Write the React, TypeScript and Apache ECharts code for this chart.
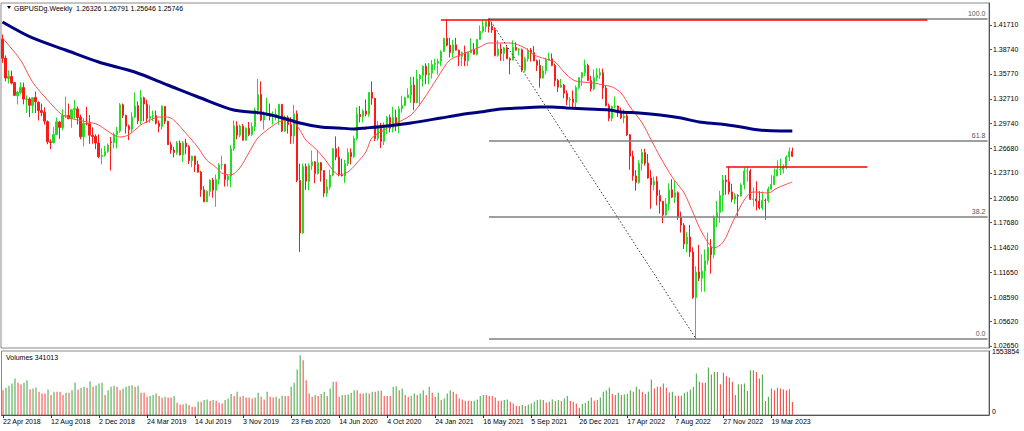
import React, { useEffect, useRef } from "react";
import * as echarts from "echarts";

const symbolTitle = "GBPUSDg.Weekly";
const tickLabels = ["22 Apr 2018", "12 Aug 2018", "2 Dec 2018", "24 Mar 2019", "14 Jul 2019", "3 Nov 2019", "23 Feb 2020", "14 Jun 2020", "4 Oct 2020", "24 Jan 2021", "16 May 2021", "5 Sep 2021", "26 Dec 2021", "17 Apr 2022", "7 Aug 2022", "27 Nov 2022", "19 Mar 2023"];
const TICK_EVERY = 16;
const SLOTS = 329;

const opens = [
  1.4000,1.3768,1.3520,1.3545,1.3470,1.3310,1.3350,1.3410,1.3265,1.3270,1.3190,1.3290,1.3230,1.3130,1.3110,1.2995,1.2750,1.2740,1.2840,1.2990,1.2920,1.3070,1.3070,1.3030,1.3140,1.3150,1.3050,1.2810,1.2970,1.2970,1.2830,1.2815,1.2735,1.2570,1.2585,1.2630,1.2750,
  1.2740,1.2840,1.2880,1.3200,1.3070,1.2940,1.2900,1.3050,1.3190,1.3005,1.3285,1.3210,1.3035,1.3060,1.3070,1.2975,1.2935,1.3180,1.3000,1.2715,1.2650,1.2620,1.2735,1.2590,1.2735,1.2690,1.2520,1.2575,1.2475,1.2380,1.2165,1.2020,1.2145,1.2285,1.2160,1.2290,1.2470,1.2475,1.2290,1.2330,1.2665,1.2945,1.2830,1.2940,1.2770,1.2915,1.2840,1.2935,1.3135,1.3325,1.3015,1.3075,
  1.3085,1.3060,1.3075,1.3080,1.3205,1.2880,1.3045,1.2960,1.2820,1.3090,1.2280,1.1640,1.2450,1.2270,1.2460,1.2505,1.2365,1.2495,1.2400,1.2125,1.2200,1.2345,1.2665,1.2565,1.2350,1.2335,1.2485,1.2620,1.2570,1.2790,1.3085,1.3055,1.3125,1.3085,1.3350,1.3280,1.2790,1.2915,1.2755,1.2940,1.3045,1.2915,1.3045,1.2945,1.3150,1.3190,1.3285,1.3320,1.3440,1.3225,1.3515,1.3555,
  1.3670,1.3565,1.3585,1.3690,1.3705,1.3730,1.3850,1.4010,1.3925,1.3835,1.3930,1.3865,1.3790,1.3835,1.3735,1.3835,1.3870,1.3815,1.3995,1.4095,1.4150,1.4215,1.4155,1.4110,1.3800,1.3880,1.3825,1.3890,1.3760,1.3745,1.3900,1.3865,1.3870,1.3620,1.3760,1.3865,1.3835,1.3735,1.3680,1.3525,1.3615,1.3745,1.3760,1.3680,1.3495,1.3415,1.3440,1.3340,1.3260,1.3270,1.3230,1.3410,
  1.3530,1.3590,1.3680,1.3495,1.3395,1.3530,1.3560,1.3590,1.3405,1.3190,1.3035,1.3180,1.3185,1.3115,1.3040,1.3065,1.2835,1.2575,1.2335,1.2255,1.2485,1.2620,1.2490,1.2310,1.2225,1.2270,1.2095,1.2025,1.1860,1.1995,1.2165,1.2075,1.2130,1.1830,1.1735,1.1505,1.1590,1.1410,1.0855,1.1165,1.1090,1.1175,1.1305,1.1465,1.1375,1.1825,1.1890,1.2095,1.2285,1.2265,1.2140,1.2050,
  1.2095,1.2090,1.2225,1.2395,1.2395,1.2050,1.2055,1.2030,1.1945,1.2040,1.2035,1.2175,1.2230,1.2335,1.2410,1.2415,1.2445,1.2565,1.26326,
];
const highs = [
  1.4055,1.3800,1.3620,1.3615,1.3475,1.3370,1.3474,1.3470,1.3315,1.3290,1.3290,1.3360,1.3240,1.3215,1.3170,1.3010,1.2780,1.2930,1.3045,1.3005,1.3145,1.3300,1.3215,1.3150,1.3260,1.3180,1.3080,1.3040,1.3175,1.3075,1.2925,1.2840,1.2840,1.2670,1.2700,1.2730,1.2810,
  1.2865,1.2930,1.3220,1.3215,1.3080,1.2960,1.3110,1.3350,1.3240,1.3380,1.3300,1.3260,1.3200,1.3130,1.3130,1.3010,1.3190,1.3185,1.3005,1.2750,1.2690,1.2760,1.2765,1.2760,1.2785,1.2710,1.2580,1.2580,1.2520,1.2395,1.2210,1.2160,1.2290,1.2310,1.2350,1.2490,1.2580,1.2480,1.2350,1.2710,1.3010,1.3000,1.2960,1.2965,1.2925,1.2990,1.2985,1.3165,1.3515,1.3485,1.3120,1.3285,
  1.3215,1.3120,1.3155,1.3210,1.3210,1.3070,1.3070,1.3050,1.3200,1.3130,1.2485,1.2485,1.2485,1.2485,1.2645,1.2515,1.2645,1.2505,1.2405,1.2295,1.2410,1.2670,1.2815,1.2690,1.2545,1.2530,1.2670,1.2670,1.2825,1.3170,1.3185,1.3145,1.3265,1.3355,1.3485,1.3285,1.3005,1.2980,1.2985,1.3065,1.3080,1.3175,1.3140,1.3180,1.3310,1.3300,1.3400,1.3540,1.3540,1.3625,1.3575,1.3680,
  1.3705,1.3710,1.3745,1.3760,1.3760,1.3865,1.4015,1.4240,1.4015,1.3990,1.4015,1.3870,1.3850,1.3920,1.3845,1.4010,1.3950,1.4000,1.4165,1.4235,1.4220,1.4250,1.4200,1.4135,1.3985,1.3945,1.3905,1.3910,1.3775,1.3985,1.3960,1.3890,1.3885,1.3785,1.3890,1.3890,1.3915,1.3750,1.3750,1.3675,1.3775,1.3835,1.3825,1.3700,1.3515,1.3515,1.3455,1.3375,1.3295,1.3375,1.3435,1.3535,
  1.3600,1.3750,1.3700,1.3550,1.3630,1.3645,1.3645,1.3640,1.3440,1.3215,1.3190,1.3300,1.3190,1.3165,1.3145,1.3090,1.2845,1.2640,1.2405,1.2525,1.2665,1.2665,1.2600,1.2405,1.2325,1.2330,1.2165,1.2030,1.2065,1.2245,1.2295,1.2275,1.2145,1.1900,1.1760,1.1650,1.1740,1.1465,1.1235,1.1495,1.1380,1.1440,1.1645,1.1565,1.1855,1.2030,1.2155,1.2345,1.2345,1.2445,1.2240,1.2125,
  1.2110,1.2245,1.2435,1.2445,1.2420,1.2195,1.2270,1.2150,1.2145,1.2060,1.2205,1.2345,1.2425,1.2525,1.2545,1.2475,1.2585,1.2680,1.26791,
];
const lows = [
  1.3711,1.3485,1.3460,1.3449,1.3305,1.3204,1.3330,1.3205,1.3100,1.3050,1.3100,1.3100,1.3010,1.3060,1.2960,1.2720,1.2660,1.2730,1.2830,1.2785,1.2890,1.3040,1.3025,1.2920,1.3030,1.2960,1.2780,1.2695,1.2950,1.2725,1.2725,1.2660,1.2550,1.2475,1.2570,1.2615,1.2400,
  1.2670,1.2670,1.2860,1.3040,1.2850,1.2770,1.2860,1.3040,1.2965,1.2960,1.3000,1.2980,1.2980,1.3000,1.2960,1.2865,1.2900,1.2965,1.2710,1.2605,1.2560,1.2590,1.2585,1.2505,1.2600,1.2480,1.2440,1.2380,1.2375,1.2080,1.2015,1.2015,1.2085,1.2070,1.1958,1.2230,1.2410,1.2205,1.2205,1.2195,1.2640,1.2780,1.2805,1.2765,1.2765,1.2820,1.2820,1.2880,1.3080,1.3000,1.2900,1.3060,
  1.3010,1.2960,1.3010,1.2955,1.2870,1.2870,1.2850,1.2725,1.2725,1.2260,1.1410,1.1630,1.2165,1.2160,1.2405,1.2245,1.2350,1.2265,1.2075,1.2080,1.2165,1.2330,1.2525,1.2330,1.2330,1.2250,1.2455,1.2475,1.2555,1.2765,1.2985,1.2985,1.3060,1.3055,1.3200,1.2760,1.2765,1.2675,1.2710,1.2845,1.2865,1.2865,1.2880,1.2855,1.3105,1.3185,1.3280,1.3225,1.3135,1.3220,1.3190,1.3420,
  1.3450,1.3450,1.3520,1.3620,1.3565,1.3670,1.3845,1.3910,1.3775,1.3775,1.3860,1.3670,1.3670,1.3670,1.3670,1.3825,1.3810,1.3800,1.3990,1.4075,1.4085,1.4080,1.4075,1.3790,1.3785,1.3735,1.3730,1.3755,1.3570,1.3740,1.3860,1.3800,1.3600,1.3600,1.3725,1.3725,1.3730,1.3610,1.3410,1.3520,1.3570,1.3740,1.3670,1.3425,1.3355,1.3405,1.3280,1.3195,1.3160,1.3170,1.3170,1.3390,
  1.3430,1.3550,1.3490,1.3360,1.3375,1.3490,1.3515,1.3270,1.3180,1.3000,1.3000,1.3155,1.3050,1.3025,1.2975,1.2820,1.2410,1.2275,1.2155,1.2240,1.2400,1.2460,1.2300,1.1935,1.2160,1.1975,1.1875,1.1760,1.1850,1.1915,1.2065,1.2005,1.1800,1.1645,1.1445,1.1405,1.1350,1.0840,1.0350,1.1055,1.0925,1.0925,1.1255,1.1145,1.1330,1.1710,1.1765,1.1900,1.2105,1.2110,1.2015,1.1990,
  1.1840,1.2085,1.2170,1.2265,1.2045,1.1960,1.1915,1.1925,1.1920,1.1800,1.2010,1.2170,1.2220,1.2330,1.2345,1.2365,1.2420,1.2515,1.25646,
];
const closes = [
  1.3766,1.3526,1.3548,1.3464,1.3315,1.3355,1.3410,1.3270,1.3270,1.3195,1.3286,1.3236,1.3130,1.3105,1.3000,1.2750,1.2740,1.2840,1.2995,1.2925,1.3070,1.3070,1.3030,1.3140,1.3155,1.3045,1.2810,1.2975,1.2970,1.2830,1.2815,1.2735,1.2570,1.2585,1.2630,1.2710,1.2740,
  1.2840,1.2880,1.3200,1.3070,1.2940,1.2900,1.3050,1.3185,1.3005,1.3285,1.3210,1.3035,1.3060,1.3070,1.2975,1.2935,1.3185,1.3000,1.2715,1.2650,1.2620,1.2735,1.2590,1.2735,1.2690,1.2520,1.2575,1.2475,1.2380,1.2165,1.2020,1.2145,1.2285,1.2160,1.2290,1.2470,1.2475,1.2290,1.2330,1.2665,1.2945,1.2830,1.2940,1.2770,1.2915,1.2840,1.2935,1.3135,1.3325,1.3015,1.3075,1.3085,
  1.3060,1.3075,1.3080,1.3205,1.2880,1.3045,1.2960,1.2820,1.3090,1.2280,1.1640,1.2450,1.2270,1.2460,1.2505,1.2365,1.2495,1.2400,1.2125,1.2200,1.2345,1.2665,1.2565,1.2350,1.2335,1.2485,1.2620,1.2570,1.2790,1.3085,1.3055,1.3125,1.3085,1.3350,1.3280,1.2790,1.2915,1.2755,1.2940,1.3045,1.2915,1.3045,1.2945,1.3150,1.3190,1.3285,1.3320,1.3440,1.3225,1.3515,1.3555,1.3670,
  1.3565,1.3585,1.3690,1.3705,1.3730,1.3850,1.4010,1.3925,1.3835,1.3930,1.3865,1.3790,1.3835,1.3735,1.3835,1.3870,1.3815,1.3995,1.4095,1.4150,1.4215,1.4155,1.4110,1.3800,1.3880,1.3825,1.3890,1.3760,1.3745,1.3900,1.3865,1.3870,1.3620,1.3760,1.3865,1.3835,1.3735,1.3680,1.3525,1.3615,1.3745,1.3760,1.3680,1.3495,1.3415,1.3440,1.3340,1.3260,1.3270,1.3230,1.3410,1.3530,
  1.3590,1.3680,1.3495,1.3395,1.3530,1.3560,1.3590,1.3405,1.3190,1.3035,1.3180,1.3185,1.3115,1.3040,1.3065,1.2835,1.2575,1.2335,1.2255,1.2485,1.2620,1.2490,1.2310,1.2225,1.2270,1.2095,1.2025,1.1860,1.1995,1.2165,1.2075,1.2130,1.1830,1.1735,1.1505,1.1590,1.1410,1.0855,1.1165,1.1090,1.1175,1.1305,1.1465,1.1375,1.1825,1.1890,1.2095,1.2285,1.2265,1.2140,1.2050,1.2095,
  1.2090,1.2225,1.2395,1.2395,1.2050,1.2055,1.2030,1.1945,1.2040,1.2035,1.2175,1.2230,1.2335,1.2410,1.2415,1.2445,1.2565,1.2630,1.25746,
];
const volumes = [
  647000,708000,760000,820000,950000,837000,794000,837000,906000,
  673000,691000,717000,604000,561000,561000,665000,518000,604000,
  604000,604000,518000,578000,578000,647000,846000,665000,708000,
  734000,708000,881000,734000,777000,820000,837000,518000,647000,
  734000,760000,734000,647000,691000,734000,760000,777000,734000,
  760000,578000,578000,475000,492000,518000,561000,492000,449000,
  475000,457000,457000,492000,319000,276000,276000,302000,259000,
  216000,216000,345000,345000,388000,406000,363000,388000,371000,
  319000,302000,388000,432000,544000,492000,604000,475000,492000,
  457000,457000,432000,457000,578000,475000,406000,604000,475000,
  457000,475000,432000,501000,492000,492000,734000,837000,1183000,
  1553854,1424000,906000,561000,475000,518000,492000,544000,604000,
  492000,691000,863000,863000,475000,518000,518000,535000,578000,
  647000,647000,561000,561000,578000,561000,604000,604000,630000,
  630000,492000,492000,492000,734000,751000,647000,691000,518000,
  475000,492000,561000,518000,561000,647000,518000,734000,
  578000,475000,578000,388000,432000,561000,647000,604000,544000,
  432000,406000,371000,371000,363000,371000,406000,492000,518000,
  518000,492000,492000,457000,371000,371000,388000,406000,345000,
  302000,242000,233000,259000,233000,276000,302000,345000,388000,
  406000,388000,328000,345000,406000,363000,388000,363000,432000,
  492000,363000,345000,302000,190000,285000,319000,371000,457000,
  371000,388000,457000,604000,647000,717000,544000,518000,578000,
  518000,535000,544000,647000,604000,734000,673000,604000,544000,
  604000,924000,691000,734000,734000,820000,708000,587000,604000,
  501000,501000,501000,578000,604000,665000,734000,1079000,863000,
  837000,837000,1234000,1053000,1122000,1122000,803000,1105000,1010000,
  975000,863000,518000,803000,803000,820000,622000,1165000,1165000,
  1122000,950000,1053000,363000,475000,691000,647000,708000,691000,
  665000,647000,673000,341013,
];
const priceTicks = [1.4171, 1.3874, 1.3577, 1.3271, 1.2974, 1.2668, 1.2371, 1.2065, 1.1768, 1.1462, 1.1165, 1.0859, 1.0562, 1.0265];
const volumeTicks = [0, 1553854];

const blueMaBars = [0, 10, 21, 32, 44, 55, 66, 77, 86, 92, 99, 106, 112, 117, 121, 128, 136, 146, 152, 159, 166, 172, 179, 183, 188, 195, 202, 206, 212, 219, 226, 232, 239, 246, 252, 259, 263];
const blueMaValues = [1.4208, 1.4013, 1.3867, 1.3721, 1.3599, 1.3441, 1.3283, 1.3137, 1.3100, 1.3052, 1.2979, 1.2930, 1.2918, 1.2906, 1.2918, 1.2942, 1.2979, 1.3039, 1.3076, 1.3112, 1.3149, 1.3161, 1.3173, 1.3173, 1.3161, 1.3149, 1.3137, 1.3112, 1.3100, 1.3076, 1.3039, 1.2991, 1.2966, 1.2930, 1.2893, 1.2881, 1.2881];
const redMaBars = [0, 6, 10, 15, 20, 25, 30, 32, 37, 39, 42, 46, 48, 52, 55, 57, 61, 65, 68, 71, 73, 76, 79, 82, 85, 89, 92, 95, 97, 99, 101, 104, 107, 110, 112, 115, 118, 121, 123, 126, 130, 136, 140, 145, 149, 155, 159, 162, 169, 174, 177, 182, 184, 187, 190, 193, 197, 200, 203, 206, 209, 213, 216, 219, 223, 225, 227, 230, 233, 237, 240, 243, 247, 250, 255, 258, 263];
const redMaValues = [1.4013, 1.3745, 1.3477, 1.3258, 1.3076, 1.3015, 1.2979, 1.2954, 1.2833, 1.2808, 1.2833, 1.2954, 1.2991, 1.3051, 1.3051, 1.3015, 1.2857, 1.2686, 1.2528, 1.2443, 1.2370, 1.2346, 1.2431, 1.2614, 1.2796, 1.2918, 1.2991, 1.3015, 1.2991, 1.2893, 1.2772, 1.2674, 1.2553, 1.2407, 1.2346, 1.2382, 1.2492, 1.2626, 1.2796, 1.2869, 1.2954, 1.3076, 1.3258, 1.3538, 1.3745, 1.3842, 1.3903, 1.3952, 1.3952, 1.3891, 1.3806, 1.3745, 1.3721, 1.3599, 1.3502, 1.3477, 1.3465, 1.3441, 1.3417, 1.3344, 1.3173, 1.2979, 1.2772, 1.2565, 1.2321, 1.2224, 1.2127, 1.1883, 1.1640, 1.1458, 1.1530, 1.1762, 1.2042, 1.2139, 1.2127, 1.2188, 1.2261];

const fibHighBar = 162;
const fibHighPrice = 1.4250;
const fibLowBar = 231;
const fibLowPrice = 1.0350;
const fibLevels = [0, 38.2, 61.8, 100];
const resistanceFrom = [146, 241];
const resistanceTo = [308, 288];
const resistancePrice = [1.4240, 1.2445];

const FONT = '"Liberation Sans", Arial, sans-serif';
const BULL = "#22dd22";
const BEAR = "#ff1a1a";
const VOL_UP = "#3fa33f";
const VOL_DOWN = "#ff3b3b";

export default function App() {
  const ref = useRef<HTMLDivElement>(null);
  useEffect(() => {
    document.body.style.margin = "0";
    if (!ref.current) return;
    const chart = echarts.init(ref.current, undefined, { renderer: "svg" });
    const n = closes.length;
    const categories = Array.from({ length: SLOTS }, (_, i) => String(i));
    const candleData = opens.map((o, i) => [o, closes[i], lows[i], highs[i]]);
    const volData = volumes.map((v, i) => ({
      value: v,
      itemStyle: { color: i > 0 && v > volumes[i - 1] ? VOL_UP : VOL_DOWN },
    }));
    const showTick = (idx: number) => idx % TICK_EVERY === 0 && idx / TICK_EVERY < tickLabels.length;
    const last = n - 1;
    const header = `${symbolTitle}  ${opens[last].toFixed(5)} ${highs[last].toFixed(5)} ${lows[last].toFixed(5)} ${closes[last].toFixed(5)}`;
    const fibLines = fibLevels.map((lv) => {
      const p = fibLowPrice + ((fibHighPrice - fibLowPrice) * lv) / 100;
      return [
        { coord: [fibHighBar, p], lineStyle: { color: "#7f7f7f", width: 1.5, type: "solid" }, label: { show: true, position: "insideEndTop", formatter: lv.toFixed(1), color: "#555", fontSize: 7, fontFamily: FONT, distance: 2 } },
        { coord: [SLOTS - 1, p] },
      ];
    });
    const resLines = resistancePrice.map((p, i) => [
      { coord: [resistanceFrom[i], p], lineStyle: { color: "#ff0000", width: 1.6, type: "solid" }, label: { show: false } },
      { coord: [resistanceTo[i], p] },
    ]);
    const diag = [
      { coord: [fibHighBar, fibHighPrice], lineStyle: { color: "#333", width: 1, type: [1.5, 2] }, label: { show: false } },
      { coord: [fibLowBar, fibLowPrice] },
    ];
    const priceTag = {
      yAxis: closes[last],
      lineStyle: { opacity: 0, width: 0 },
      label: { show: true, position: "end", formatter: closes[last].toFixed(5), backgroundColor: "#000", color: "#fff", fontSize: 7, fontFamily: FONT, padding: [1, 2, 0, 2], distance: 1 },
    };

    chart.setOption({
      animation: false,
      backgroundColor: "#fff",
      textStyle: { fontFamily: FONT },
      grid: [
        { left: 1, top: 3, width: 988, height: 345, show: true, borderColor: "#8a8a8a", borderWidth: 1, backgroundColor: "#fff" },
        { left: 1, top: 351, width: 988, height: 64, show: true, borderColor: "#8a8a8a", borderWidth: 1, backgroundColor: "#fff" },
      ],
      xAxis: [
        { type: "category", gridIndex: 0, data: categories, boundaryGap: true, axisLine: { show: false }, axisTick: { show: false }, axisLabel: { show: false }, splitLine: { show: false } },
        {
          type: "category", gridIndex: 1, data: categories, boundaryGap: true,
          axisLine: { show: true, lineStyle: { color: "#555" } },
          axisTick: { show: true, alignWithLabel: true, interval: showTick, length: 3, lineStyle: { color: "#333" } },
          axisLabel: { interval: showTick, formatter: (_v: string, idx: number) => (showTick(idx) ? tickLabels[idx / TICK_EVERY] : ""), fontSize: 7, color: "#000", align: "left", margin: 3, fontFamily: FONT },
          splitLine: { show: false },
        },
      ],
      yAxis: [
        {
          type: "value", gridIndex: 0, position: "right", min: 1.02406, max: 1.44387,
          splitLine: { show: false },
          axisLine: { show: true, lineStyle: { color: "#555" } },
          axisTick: { show: true, customValues: priceTicks, length: 3, lineStyle: { color: "#555" } },
          axisLabel: { customValues: priceTicks, formatter: (v: number) => v.toFixed(5), fontSize: 7, color: "#000", margin: 4, fontFamily: FONT },
        },
        {
          type: "value", gridIndex: 1, position: "right", min: 0, max: 1665213,
          splitLine: { show: false },
          axisLine: { show: true, lineStyle: { color: "#555" } },
          axisTick: { show: false },
          axisLabel: { customValues: volumeTicks, formatter: (v: number) => String(Math.round(v)), fontSize: 7, color: "#000", margin: 3, verticalAlign: "bottom", fontFamily: FONT },
        },
      ],
      series: [
        {
          type: "candlestick", xAxisIndex: 0, yAxisIndex: 0, data: candleData, barWidth: 1.7,
          itemStyle: { color: BULL, color0: BEAR, borderColor: BULL, borderColor0: BEAR, borderWidth: 1 },
        },
        {
          type: "line", xAxisIndex: 0, yAxisIndex: 0, data: redMaBars.map((b, i) => [b, redMaValues[i]]),
          smooth: 0.3, symbol: "none", lineStyle: { color: "#ff4d4d", width: 1 }, z: 3,
        },
        {
          type: "line", xAxisIndex: 0, yAxisIndex: 0, data: blueMaBars.map((b, i) => [b, blueMaValues[i]]),
          smooth: 0.3, symbol: "none", lineStyle: { color: "#000080", width: 3 }, z: 4,
        },
        {
          type: "line", xAxisIndex: 0, yAxisIndex: 0, data: [], clip: false, z: 5,
          markLine: { silent: true, symbol: ["none", "none"], animation: false, data: [...fibLines, ...resLines, diag, priceTag] },
        },
        {
          type: "bar", xAxisIndex: 1, yAxisIndex: 1, data: volData, barWidth: 1,
        },
      ],
      graphic: [
        { type: "polygon", shape: { points: [[7, 6], [11, 6], [9, 9]] }, style: { fill: "#000" } },
        { type: "text", x: 14, y: 8, style: { text: header, fontSize: 7, fontFamily: FONT, fill: "#000", verticalAlign: "middle" } },
        { type: "text", x: 6, y: 357, style: { text: `Volumes ${volumes[last]}`, fontSize: 7, fontFamily: FONT, fill: "#000", verticalAlign: "middle" } },
      ],
    });
    return () => chart.dispose();
  }, []);
  return <div ref={ref} style={{ width: 1024, height: 431 }} />;
}
